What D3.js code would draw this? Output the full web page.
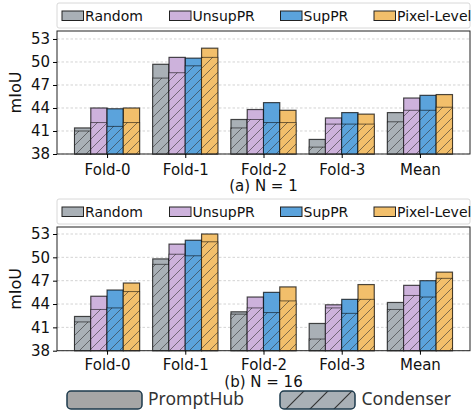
<!DOCTYPE html>
<html>
<head>
<meta charset="utf-8">
<script src="https://cdn.jsdelivr.net/npm/d3@7"></script>
<style>
  body { margin: 0; background: #fff; }
  svg { display: block; font-family: "DejaVu Sans", sans-serif; }
</style>
</head>
<body>
<div id="chart"></div>
<script>
// -- data ---------------------------------------------------------------
const categories = ['Fold-0', 'Fold-1', 'Fold-2', 'Fold-3', 'Mean'];
const methods    = ['Random', 'UnsupPR', 'SupPR', 'Pixel-Level'];
const yTicks     = [38, 41, 44, 47, 50, 53];

// one row per method, one value per category
const promptHubN1 = [
  [41.4, 49.7, 42.5, 39.9, 43.4],
  [44.0, 50.6, 43.8, 42.7, 45.3],
  [43.9, 50.5, 44.7, 43.4, 45.65],
  [44.0, 51.8, 43.7, 43.2, 45.75]
];
const condenserN1 = [
  [41.0, 47.9, 41.4, 38.9, 42.2],
  [42.1, 48.6, 42.5, 41.9, 43.7],
  [41.6, 49.5, 42.1, 41.9, 43.7],
  [42.1, 50.6, 42.1, 41.9, 44.1]
];
const promptHubN16 = [
  [42.4, 49.8, 43.0, 41.5, 44.2],
  [45.0, 51.7, 44.9, 43.9, 46.4],
  [45.8, 52.2, 45.5, 44.6, 47.0],
  [46.7, 53.0, 46.2, 46.5, 48.1]
];
const condenserN16 = [
  [41.7, 49.1, 42.7, 39.5, 43.3],
  [43.3, 50.4, 43.5, 43.5, 45.1],
  [43.5, 50.2, 42.9, 42.8, 44.9],
  [45.6, 52.0, 44.4, 44.6, 47.3]
];

const colors = ['#a9b0b6', '#cdb2dc', '#5ba3dc', '#f2bf6b'];

const W = 474, H = 410;
const svg = d3.select('#chart').append('svg')
  .attr('width', W).attr('height', H);

// -- hatch patterns -----------------------------------------------------
const defs = svg.append('defs');
defs.append('pattern')
  .attr('id', 'hatch').attr('patternUnits', 'userSpaceOnUse')
  .attr('width', 10).attr('height', 10)
  .append('path')
  .attr('d', 'M0,10L10,0M-2.5,2.5L2.5,-2.5M7.5,12.5L12.5,7.5')
  .attr('stroke', '#333').attr('stroke-opacity', 0.75).attr('stroke-width', 0.8);

defs.append('pattern')
  .attr('id', 'hatch-big').attr('patternUnits', 'userSpaceOnUse')
  .attr('width', 24).attr('height', 24)
  .attr('x', 280).attr('y', 391)
  .append('path')
  .attr('d', 'M0,24L24,0M-6,6L6,-6M18,30L30,18')
  .attr('stroke', '#333').attr('stroke-width', 1.2);

// -- one panel ----------------------------------------------------------
function panel(cfg) {
  const { top, bottom, yMax, prompt, cond, legendY, caption, captionY, tickY } = cfg;
  const left = 57, right = 470;
  const g = svg.append('g');

  const x = d3.scaleLinear().domain([-0.64, 4.64]).range([left, right]);
  const y = d3.scaleLinear().domain([38, yMax]).range([bottom, top]);
  const bw = 0.208;

  // grid
  g.selectAll('.grid').data(yTicks).join('line')
    .attr('x1', left).attr('x2', right)
    .attr('y1', d => y(d)).attr('y2', d => y(d))
    .attr('stroke', '#c8c8c8').attr('stroke-width', 0.8)
    .attr('stroke-dasharray', '2.5,2');

  // bars
  methods.forEach((m, mi) => {
    const off = (mi - 1.5) * bw;
    const bx = i => x(i + off - bw / 2);
    const wpx = x(bw) - x(0);
    const mg = g.append('g');

    mg.selectAll('.ph').data(prompt[mi]).join('rect')
      .attr('x', (d, i) => bx(i)).attr('width', wpx)
      .attr('y', d => y(d)).attr('height', d => y(38) - y(d))
      .attr('fill', colors[mi])
      .attr('stroke', '#000').attr('stroke-opacity', 0.7).attr('stroke-width', 1.2);

    mg.selectAll('.cd').data(cond[mi]).join('rect')
      .attr('x', (d, i) => bx(i)).attr('width', wpx)
      .attr('y', d => y(d)).attr('height', d => y(38) - y(d))
      .attr('fill', colors[mi]);

    mg.selectAll('.hd').data(cond[mi]).join('rect')
      .attr('x', (d, i) => bx(i)).attr('width', wpx)
      .attr('y', d => y(d)).attr('height', d => y(38) - y(d))
      .attr('fill', 'url(#hatch)')
      .attr('stroke', '#000').attr('stroke-opacity', 0.55).attr('stroke-width', 1);
  });

  // frame
  g.append('rect')
    .attr('x', left).attr('y', top)
    .attr('width', right - left).attr('height', bottom - top)
    .attr('fill', 'none').attr('stroke', '#222').attr('stroke-width', 1);

  // y axis
  const ya = g.append('g').attr('transform', `translate(${left},0)`)
    .call(d3.axisLeft(y).tickValues(yTicks).tickSize(4).tickPadding(3));
  ya.select('.domain').remove();
  ya.selectAll('text').attr('font-size', 15).attr('fill', '#111')
    .attr('font-family', '"DejaVu Sans", sans-serif');

  // x axis
  const xa = g.append('g').attr('transform', `translate(0,${bottom})`)
    .call(d3.axisBottom(x).tickValues(d3.range(categories.length))
      .tickFormat(i => categories[i]).tickSize(4).tickPadding(3));
  xa.select('.domain').remove();
  xa.selectAll('text').attr('font-size', 15).attr('fill', '#111')
    .attr('font-family', '"DejaVu Sans", sans-serif')
    .attr('dy', null).attr('y', tickY - bottom);

  // y label
  g.append('text')
    .attr('transform', `translate(21,${(top + bottom) / 2}) rotate(-90)`)
    .attr('text-anchor', 'middle').attr('font-size', 16).attr('fill', '#111')
    .text('mIoU');

  // caption
  g.append('text')
    .attr('x', (left + right) / 2).attr('y', captionY)
    .attr('text-anchor', 'middle').attr('font-size', 15).attr('fill', '#111')
    .text(caption);

  // legend
  const lg = g.append('g');
  lg.append('rect')
    .attr('x', left).attr('y', legendY).attr('width', right - left).attr('height', 25)
    .attr('rx', 2).attr('fill', '#fff').attr('stroke', '#d8d8d8');
  const lx = [62, 169.5, 280.5, 374];
  methods.forEach((m, mi) => {
    lg.append('rect')
      .attr('x', lx[mi]).attr('y', legendY + 8).attr('width', 21.5).attr('height', 9.5)
      .attr('fill', colors[mi]).attr('stroke', '#222').attr('stroke-width', 1);
    lg.append('text')
      .attr('x', lx[mi] + 23).attr('y', legendY + 18)
      .attr('font-size', 14).attr('fill', '#111').text(m);
  });
}

panel({ top: 31, bottom: 154, yMax: 54.04, prompt: promptHubN1, cond: condenserN1,
        legendY: 3, caption: '(a) N = 1', captionY: 191, tickY: 175 });
panel({ top: 227, bottom: 350.7, yMax: 53.9, prompt: promptHubN16, cond: condenserN16,
        legendY: 199, caption: '(b) N = 16', captionY: 387, tickY: 370 });

// -- bottom legend: PromptHub vs Condenser ------------------------------
const bl = svg.append('g').attr('font-family', '"Noto Sans", sans-serif');
bl.append('rect')
  .attr('x', 67).attr('y', 391).attr('width', 75).attr('height', 18).attr('rx', 4)
  .attr('fill', '#a6a6a6').attr('stroke', '#1d3a4c').attr('stroke-width', 1.5);
bl.append('text').attr('x', 148).attr('y', 405)
  .attr('font-size', 17.5).attr('fill', '#333').text('PromptHub');
bl.append('rect')
  .attr('x', 280).attr('y', 391).attr('width', 75).attr('height', 18).attr('rx', 4)
  .attr('fill', '#a9b0b6');
bl.append('rect')
  .attr('x', 280).attr('y', 391).attr('width', 75).attr('height', 18).attr('rx', 4)
  .attr('fill', 'url(#hatch-big)').attr('stroke', '#1d3a4c').attr('stroke-width', 1.5);
bl.append('text').attr('x', 361.5).attr('y', 405)
  .attr('font-size', 17.5).attr('fill', '#333').text('Condenser');
</script>
</body>
</html>
